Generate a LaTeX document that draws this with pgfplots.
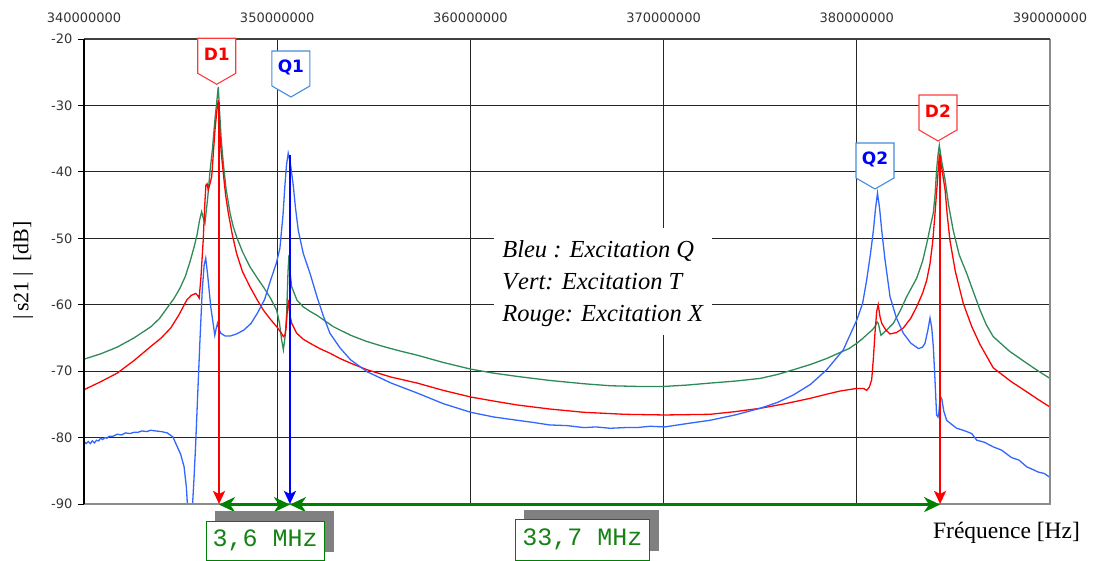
\documentclass[border=0pt]{standalone}
\usepackage{fontspec}
\usepackage{pgfplots}
\usepackage{pgfplotstable}
\pgfplotsset{compat=1.18}
\usetikzlibrary{arrows.meta}
\setmainfont{Liberation Serif}
\newfontfamily\tickfont{DejaVu Sans}
\newfontfamily\monofont{Liberation Mono}
\newfontfamily\markfont{DejaVu Sans}

\definecolor{cred}{RGB}{255,0,0}
\definecolor{cgreen}{RGB}{46,139,87}
\definecolor{cblue}{RGB}{51,102,255}
\definecolor{agreen}{RGB}{0,128,0}
\definecolor{tgreen}{RGB}{20,130,20}
\definecolor{qblue}{RGB}{0,0,255}
\definecolor{qedge}{RGB}{70,140,220}
\definecolor{dedge}{RGB}{255,60,60}

% frequency in MHz, level in dB
\pgfplotstableread{
f dB
340.00 -68.2
340.86 -67.4
341.71 -66.4
342.59 -65.0
343.47 -63.3
343.90 -62.1
344.30 -60.5
344.65 -59.1
344.97 -57.5
345.25 -55.7
345.49 -53.5
345.70 -51.3
345.85 -49.5
345.98 -47.3
346.09 -46.0
346.18 -47.0
346.26 -47.7
346.40 -44.0
346.52 -40.0
346.65 -36.5
346.78 -32.0
346.87 -29.5
346.95 -27.2
347.03 -31.5
347.10 -35.0
347.21 -38.7
347.35 -42.5
347.56 -46.2
347.72 -48.2
347.90 -49.8
348.20 -52.0
348.59 -54.3
348.95 -55.9
349.28 -57.3
349.65 -59.0
349.97 -60.8
350.12 -62.8
350.23 -65.3
350.32 -66.8
350.42 -64.5
350.49 -61.3
350.56 -55.0
350.61 -52.5
350.68 -55.5
350.75 -57.3
351.02 -59.3
351.34 -60.3
351.70 -61.0
352.06 -61.6
352.90 -63.3
353.80 -64.6
354.60 -65.5
355.50 -66.3
356.40 -67.0
357.25 -67.6
358.60 -68.7
360.02 -69.7
361.20 -70.3
362.43 -70.8
364.10 -71.4
365.88 -71.9
367.23 -72.2
368.60 -72.3
370.06 -72.3
371.20 -72.1
372.40 -71.8
373.70 -71.5
374.99 -71.1
375.90 -70.5
376.71 -69.8
377.60 -69.0
378.44 -68.1
379.13 -67.2
379.60 -66.6
380.00 -65.8
380.30 -65.1
380.60 -64.3
380.80 -63.8
380.94 -63.3
381.05 -62.6
381.11 -62.8
381.25 -64.6
381.55 -63.8
381.89 -62.8
382.25 -60.9
382.58 -58.8
383.10 -56.0
383.40 -53.5
383.62 -50.8
383.80 -48.3
383.96 -46.2
384.05 -43.5
384.13 -39.7
384.20 -37.5
384.27 -36.0
384.40 -38.5
384.57 -41.2
384.75 -45.0
384.99 -48.8
385.30 -52.5
385.69 -55.3
386.00 -57.8
386.38 -60.8
386.70 -63.0
387.06 -64.8
387.90 -67.0
388.79 -68.8
389.40 -70.0
390.00 -71.1
}\greendata

\pgfplotstableread{
f dB
340.00 -72.8
340.86 -71.6
341.72 -70.3
342.59 -68.4
343.45 -66.3
344.00 -65.0
344.49 -63.5
344.90 -61.6
345.32 -59.3
345.55 -58.6
345.78 -58.3
345.88 -58.6
345.96 -59.0
346.05 -56.0
346.17 -50.3
346.25 -45.0
346.31 -42.0
346.37 -41.8
346.43 -42.7
346.52 -41.8
346.61 -40.7
346.70 -37.0
346.78 -33.7
346.87 -31.0
346.95 -29.2
347.03 -34.0
347.10 -37.0
347.21 -40.2
347.33 -43.5
347.47 -46.2
347.68 -49.5
347.90 -52.3
348.20 -55.0
348.59 -57.3
348.95 -59.2
349.28 -60.8
349.65 -62.2
349.97 -63.3
350.20 -64.2
350.32 -64.8
350.40 -64.6
350.46 -63.5
350.52 -61.0
350.58 -59.3
350.65 -61.5
350.75 -62.8
351.01 -64.3
351.35 -65.2
351.70 -65.8
352.20 -66.6
352.73 -67.3
353.25 -68.1
353.80 -68.8
354.66 -69.8
355.90 -70.9
357.25 -71.8
358.60 -72.9
360.02 -73.9
361.20 -74.5
362.43 -75.1
364.10 -75.7
365.88 -76.2
368.00 -76.5
370.06 -76.6
372.40 -76.5
373.70 -76.1
374.99 -75.6
376.30 -74.9
377.58 -74.1
378.40 -73.5
379.13 -73.0
380.00 -72.6
380.35 -72.6
380.51 -72.9
380.65 -72.4
380.77 -71.3
380.86 -68.0
380.94 -64.3
381.03 -61.0
381.11 -60.0
381.20 -61.8
381.29 -62.8
381.50 -63.8
381.72 -64.4
382.05 -64.2
382.41 -63.5
382.80 -62.0
383.10 -60.3
383.40 -58.3
383.62 -56.3
383.79 -53.8
383.93 -50.5
384.05 -46.2
384.17 -41.5
384.27 -37.5
384.40 -39.5
384.57 -42.7
384.68 -46.5
384.82 -50.3
385.10 -55.0
385.51 -59.8
385.95 -63.3
386.38 -66.0
387.06 -69.5
388.00 -71.6
388.79 -73.1
389.40 -74.3
390.00 -75.4
}\reddata

\pgfplotstableread{
f dB
340.00 -80.6
340.11 -80.9
340.22 -80.6
340.33 -80.9
340.43 -80.5
340.54 -80.8
340.65 -80.4
340.76 -80.5
340.86 -80.1
340.97 -80.3
341.08 -80.0
341.19 -80.1
341.30 -79.8
341.50 -79.8
341.72 -79.5
341.95 -79.6
342.15 -79.3
342.38 -79.4
342.60 -79.2
342.80 -79.2
343.00 -79.0
343.25 -79.1
343.45 -78.9
343.70 -79.0
344.00 -79.1
344.31 -79.3
344.60 -79.9
344.83 -81.4
345.00 -82.5
345.18 -84.4
345.30 -87.5
345.35 -90.0
345.62 -90.0
345.69 -86.4
345.78 -81.0
345.86 -75.3
346.00 -65.5
346.12 -57.8
346.22 -54.0
346.30 -53.0
346.40 -55.5
346.56 -60.3
346.77 -64.6
346.84 -63.6
346.91 -62.8
346.98 -63.6
347.08 -64.3
347.30 -64.7
347.59 -64.7
347.90 -64.4
348.28 -63.8
348.65 -62.8
348.97 -61.3
349.35 -59.2
349.66 -56.3
349.95 -53.8
350.14 -51.5
350.30 -46.5
350.40 -42.0
350.48 -39.0
350.57 -37.2
350.68 -38.7
350.83 -42.0
350.95 -45.5
351.09 -48.8
351.35 -52.3
351.70 -55.3
352.08 -59.0
352.40 -61.8
352.73 -64.3
353.25 -66.5
353.80 -68.3
354.66 -70.1
355.90 -71.8
357.25 -73.3
358.60 -74.9
360.02 -76.2
361.20 -76.9
362.43 -77.4
363.20 -77.7
364.10 -78.1
365.00 -78.2
365.88 -78.5
366.50 -78.4
367.23 -78.6
368.00 -78.5
368.60 -78.5
369.30 -78.3
370.06 -78.4
371.20 -77.9
372.40 -77.4
373.70 -76.6
374.99 -75.6
375.90 -74.7
376.71 -73.6
377.60 -72.0
378.44 -69.8
379.30 -66.8
380.00 -62.3
380.30 -59.8
380.51 -56.3
380.70 -52.5
380.86 -48.8
380.97 -45.5
381.07 -43.2
381.18 -45.5
381.29 -48.8
381.45 -53.0
381.72 -58.8
382.05 -62.0
382.41 -64.3
382.80 -65.8
383.19 -66.6
383.40 -66.4
383.53 -65.8
383.68 -63.8
383.79 -62.0
383.88 -63.5
383.96 -66.3
384.05 -71.5
384.13 -76.6
384.20 -76.9
384.25 -76.2
384.32 -73.8
384.40 -74.2
384.50 -76.0
384.65 -77.4
384.90 -78.0
385.17 -78.6
385.40 -78.8
385.69 -79.1
385.95 -79.4
386.21 -80.4
386.60 -80.7
387.06 -81.4
387.50 -81.9
388.00 -83.0
388.40 -83.4
388.79 -84.4
389.10 -84.8
389.40 -85.2
389.70 -85.4
390.00 -86.0
}\bluedata

\newcommand{\callout}[4]{%
  \draw[#3, line width=1.1bp, fill=white] (#1) -- ++(-19bp,11bp) -- ++(0,35bp) -- ++(38bp,0) -- ++(0,-35bp) -- cycle;
  \node[text=#4, font=\markfont\bfseries\fontsize{17bp}{17bp}\selectfont, inner sep=0] at ([yshift=29.5bp]#1) {#2};
}
\tikzset{
  sarr/.style={-{Stealth[length=13bp,width=12bp,inset=3bp]}, line width=2.6bp},
  garr/.style={{Stealth[length=16bp,width=15bp,inset=5bp]}-{Stealth[length=16bp,width=15bp,inset=5bp]}, line width=2.8bp, agreen},
  legtxt/.style={anchor=base west, inner sep=0, font=\fontsize{24.5bp}{30bp}\selectfont\itshape},
  mhz/.style={draw=agreen, line width=0.9bp, fill=white, inner sep=0, text=tgreen, font=\monofont\fontsize{25bp}{25bp}\selectfont},
}

\begin{document}
\begin{tikzpicture}
\begin{axis}[
  scale only axis, width=966bp, height=465bp,
  xmin=0, xmax=50, ymin=-90, ymax=-20,
  xtick={0,10,20,30,40,50},
  xticklabels={340000000,350000000,360000000,370000000,380000000,390000000},
  ytick={-90,-80,-70,-60,-50,-40,-30,-20},
  yticklabels={-90,-80,-70,-60,-50,-40,-30,-20},
  xticklabel pos=upper, ytick pos=left,
  tick label style={font=\tickfont\fontsize{13bp}{15bp}\selectfont, text=black!80},
  xticklabel style={yshift=7bp},
  yticklabel style={xshift=-2bp},
  xtick style={draw=none},
  ytick style={draw=black, line width=0.8bp},
  tick align=outside, major tick length=6bp,
  grid=major, major grid style={black!85, line width=0.9bp},
  axis line style={draw=none},
  clip=false,
]
\addplot[cgreen, line width=1.3bp] table[x expr=\thisrow{f}-340, y=dB] {\greendata};
\addplot[cred, line width=1.3bp] table[x expr=\thisrow{f}-340, y=dB] {\reddata};
\addplot[cblue, line width=1.3bp] table[x expr=\thisrow{f}-340, y=dB] {\bluedata};

\coordinate (legc) at (axis cs:26.86,-56.5);
\coordinate (leg1) at (axis cs:21.64,-52.82);
\coordinate (leg2) at (axis cs:21.64,-57.71);
\coordinate (leg3) at (axis cs:21.64,-62.60);
\coordinate (rD1t) at (axis cs:6.99,-29.5);
\coordinate (rD1b) at (axis cs:6.99,-90);
\coordinate (bQ1t) at (axis cs:10.66,-37.5);
\coordinate (bQ1b) at (axis cs:10.66,-90);
\coordinate (rD2t) at (axis cs:44.31,-37.5);
\coordinate (rD2b) at (axis cs:44.31,-90);
\coordinate (sh1) at (axis cs:9.86,-94.11);
\coordinate (bx1) at (axis cs:9.38,-95.49);
\coordinate (sh2) at (axis cs:26.27,-93.96);
\coordinate (bx2) at (axis cs:25.80,-95.37);
\coordinate (D1tip) at (axis cs:6.87,-26.82);
\coordinate (Q1tip) at (axis cs:10.71,-28.73);
\coordinate (Q2tip) at (axis cs:40.94,-42.58);
\coordinate (D2tip) at (axis cs:44.20,-35.35);
\coordinate (flab) at (axis cs:43.94,-95.27);
\end{axis}

% frame
\draw[black!45, line width=1.5bp] (current axis.south west) -- (current axis.south east) -- (current axis.north east);
\draw[black!75, line width=2.5bp] (current axis.north west) -- (current axis.north east);
\draw[black, line width=1.8bp] (current axis.south west) -- (current axis.north west);

% legend box
\node[fill=white, inner sep=0, minimum width=218bp, minimum height=107bp] at (legc) {};
\node[legtxt] at (leg1) {Bleu : Excitation Q};
\node[legtxt] at (leg2) {V\kern1bp ert: Excitation T};
\node[legtxt] at (leg3) {Rouge: Excitation X};

% arrows
\draw[cred, sarr] (rD1t) -- (rD1b);
\draw[qblue, sarr] (bQ1t) -- (bQ1b);
\draw[cred, sarr] (rD2t) -- (rD2b);
\draw[garr] ([yshift=-0.6bp]rD1b) -- ([yshift=-0.6bp]bQ1b);
\draw[garr] ([yshift=-0.6bp]bQ1b) -- ([yshift=-0.6bp]rD2b);

% frequency difference labels
\fill[black!50] (sh1) ++(-59.5bp,-20.5bp) rectangle ++(119bp,41bp);
\node[mhz, minimum width=118bp, minimum height=39bp] at (bx1) {3,6 MHz};
\fill[black!50] (sh2) ++(-67.5bp,-20.5bp) rectangle ++(135bp,41bp);
\node[mhz, minimum width=134bp, minimum height=41bp] at (bx2) {33,7 MHz};

% callouts
\callout{D1tip}{D1}{dedge}{cred}
\callout{Q1tip}{Q1}{qedge}{qblue}
\callout{Q2tip}{Q2}{qedge}{qblue}
\callout{D2tip}{D2}{dedge}{cred}

% axis titles
\node[anchor=base west, inner sep=0, font=\fontsize{23.5bp}{28bp}\selectfont] at (flab) {Fréquence [Hz]};
\node[rotate=90, inner sep=0, font=\fontsize{22bp}{26bp}\selectfont] at ([xshift=-61bp,yshift=1bp]current axis.west) {|\hspace{3bp}s21\hspace{5bp}|\hspace{10bp}[dB]};

\pgfresetboundingbox
\path[use as bounding box] ([shift={(-84bp,-57bp)}]current axis.south west) rectangle ([shift={(44bp,39bp)}]current axis.north east);
\end{tikzpicture}
\end{document}
